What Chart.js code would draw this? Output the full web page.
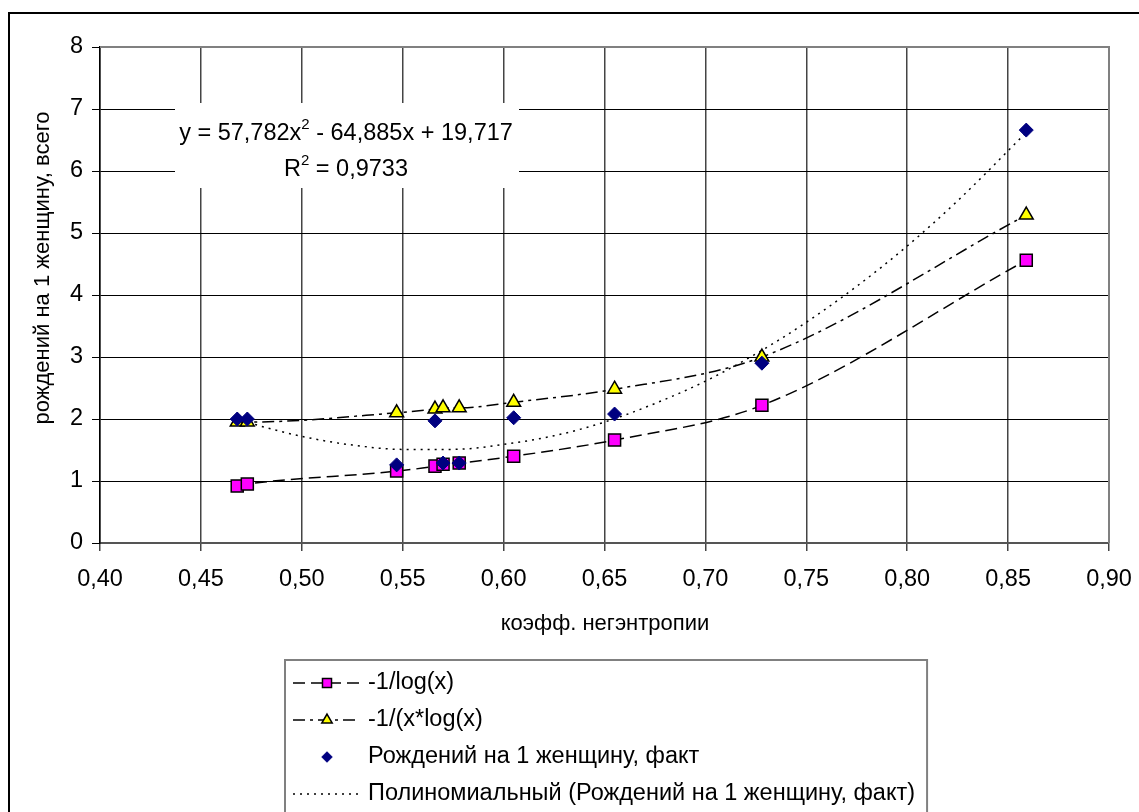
<!DOCTYPE html>
<html>
<head>
<meta charset="utf-8">
<script src="https://cdn.jsdelivr.net/npm/chart.js@4.4.1/dist/chart.umd.min.js"></script>
<style>
  html, body { margin: 0; padding: 0; background: #fff; }
  #wrap { width: 1139px; height: 812px; position: relative; }
</style>
</head>
<body>
<div id="wrap"><canvas id="chart"></canvas></div>
<script>
// values
const xValues = [0.468, 0.473, 0.547, 0.566, 0.570, 0.578, 0.605, 0.655, 0.728, 0.859]
const logValues = [0.92, 0.95, 1.16, 1.24, 1.27, 1.29, 1.40, 1.66, 2.22, 4.56]
const xLogValues = [1.95, 1.95, 2.10, 2.16, 2.18, 2.18, 2.27, 2.48, 3.00, 5.29]
const factValues = [2.00, 2.00, 1.26, 1.97, 1.29, 1.29, 2.02, 2.08, 2.90, 6.66]

const trendX = [0.467, 0.475, 0.50, 0.525, 0.55, 0.575, 0.60, 0.625, 0.65, 0.675, 0.70, 0.725, 0.75, 0.775, 0.80, 0.825, 0.859]
const trendY = [2.02, 1.93, 1.72, 1.58, 1.51, 1.51, 1.59, 1.73, 1.95, 2.25, 2.61, 3.05, 3.56, 4.14, 4.79, 5.52, 6.62]

const seriesNames = ['-1/log(x)', '-1/(x*log(x)', 'Рождений на 1 женщину, факт', 'Полиномиальный (Рождений на 1 женщину, факт)']
const xTitle = 'коэфф. негэнтропии'
const yTitle = 'рождений на 1 женщину, всего'
const eqLine1 = ['y = 57,782x', '2', ' - 64,885x + 19,717']
const eqLine2 = ['R', '2', ' = 0,9733']

const FONT = "'Liberation Sans', Arial, sans-serif"
const SIZE = 23.5

const pairs = (xs, ys) => xs.map((x, i) => ({ x: x, y: ys[i] }))

// frame, titles, equation label and legend
const extras = {
  id: 'extras',
  beforeDraw(chart) {
    const ctx = chart.ctx
    ctx.save()
    ctx.fillStyle = '#fff'
    ctx.fillRect(0, 0, chart.width, chart.height)
    ctx.strokeStyle = '#000'
    ctx.lineWidth = 2
    ctx.beginPath()
    ctx.moveTo(9, chart.height)
    ctx.lineTo(9, 13)
    ctx.lineTo(chart.width, 13)
    ctx.stroke()

    // axis titles
    ctx.fillStyle = '#000'
    ctx.font = '22px ' + FONT
    ctx.textAlign = 'center'
    ctx.textBaseline = 'middle'
    ctx.fillText(xTitle, 605, 624)
    ctx.translate(43, 268)
    ctx.rotate(-Math.PI / 2)
    ctx.fillText(yTitle, 0, 0)
    ctx.restore()
  },
  afterDatasetsDraw(chart) {
    const ctx = chart.ctx
    const a = chart.chartArea
    ctx.save()
    // plot area border (top / right)
    ctx.strokeStyle = '#808080'
    ctx.lineWidth = 2
    ctx.beginPath()
    ctx.moveTo(a.left, a.top)
    ctx.lineTo(a.right, a.top)
    ctx.lineTo(a.right, a.bottom)
    ctx.stroke()

    // regression equation
    ctx.fillStyle = '#fff'
    ctx.fillRect(175, 103, 344, 85)
    ctx.fillStyle = '#000'
    ctx.textBaseline = 'middle'
    ctx.textAlign = 'left'
    const drawSup = (parts, cx, cy) => {
      ctx.font = SIZE + 'px ' + FONT
      const w0 = ctx.measureText(parts[0]).width
      const w2 = ctx.measureText(parts[2]).width
      ctx.font = '15px ' + FONT
      const w1 = ctx.measureText(parts[1]).width
      const x = cx - (w0 + w1 + w2) / 2
      ctx.font = SIZE + 'px ' + FONT
      ctx.fillText(parts[0], x, cy)
      ctx.font = '15px ' + FONT
      ctx.fillText(parts[1], x + w0, cy - 9)
      ctx.font = SIZE + 'px ' + FONT
      ctx.fillText(parts[2], x + w0 + w1, cy)
    }
    drawSup(eqLine1, 346, 134)
    drawSup(eqLine2, 346, 170)
    ctx.restore()
  },
  afterDraw(chart) {
    const ctx = chart.ctx
    ctx.save()
    const byName = {}
    chart.data.datasets.forEach((ds) => { byName[ds.label] = ds })

    // legend box
    ctx.font = SIZE + 'px ' + FONT
    let maxW = 0
    seriesNames.forEach((n) => { maxW = Math.max(maxW, ctx.measureText(n).width) })
    const lx = 285, ly = 660, rx = 368 + maxW + 12
    ctx.strokeStyle = '#808080'
    ctx.lineWidth = 2
    ctx.beginPath()
    ctx.moveTo(lx, chart.height)
    ctx.lineTo(lx, ly)
    ctx.lineTo(rx, ly)
    ctx.lineTo(rx, chart.height)
    ctx.stroke()

    const rows = [683, 720, 757, 794]
    seriesNames.forEach((name, i) => {
      const ds = byName[name]
      const y = rows[i]
      if (ds.showLine !== false) {
        ctx.save()
        ctx.strokeStyle = ds.borderColor
        ctx.lineWidth = ds.borderWidth
        ctx.setLineDash(ds.borderDash || [])
        ctx.beginPath()
        ctx.moveTo(293, y)
        ctx.lineTo(360, y)
        ctx.stroke()
        ctx.restore()
      }
      if (ds.pointRadius > 0) {
        ctx.save()
        ctx.fillStyle = ds.pointBackgroundColor
        ctx.strokeStyle = ds.pointBorderColor
        ctx.lineWidth = ds.pointBorderWidth
        Chart.helpers.drawPoint(ctx, {
          pointStyle: ds.pointStyle,
          radius: ds.pointRadius * 0.75,
          borderWidth: ds.pointBorderWidth,
          rotation: 0
        }, 327, y)
        ctx.restore()
      }
      ctx.fillStyle = '#000'
      ctx.font = SIZE + 'px ' + FONT
      ctx.textAlign = 'left'
      ctx.textBaseline = 'middle'
      ctx.fillText(name, 368, y)
    })
    ctx.restore()
  }
}

const ctx = document.getElementById('chart').getContext('2d')
const chart = new Chart(ctx, {
  type: 'scatter',
  data: {
    datasets: [
      {
        label: seriesNames[2],
        data: pairs(xValues, factValues),
        showLine: false,
        pointStyle: 'rectRot',
        pointRadius: 7,
        pointBackgroundColor: '#000080',
        pointBorderColor: '#000080',
        pointBorderWidth: 1,
        order: 0,
      },
      {
        label: seriesNames[0],
        data: pairs(xValues, logValues),
        showLine: true,
        borderColor: '#000',
        borderWidth: 1.5,
        borderDash: [12, 6],
        cubicInterpolationMode: 'monotone',
        pointStyle: 'rect',
        pointRadius: 8.5,
        pointBackgroundColor: '#FF00FF',
        pointBorderColor: '#000',
        pointBorderWidth: 1.5,
        order: 1,
      },
      {
        label: seriesNames[1],
        data: pairs(xValues, xLogValues),
        showLine: true,
        borderColor: '#000',
        borderWidth: 1.5,
        borderDash: [12, 5, 3, 5],
        cubicInterpolationMode: 'monotone',
        pointStyle: 'triangle',
        pointRadius: 8,
        pointBackgroundColor: '#FFFF00',
        pointBorderColor: '#000',
        pointBorderWidth: 1.5,
        order: 2,
      },
      {
        label: seriesNames[3],
        data: pairs(trendX, trendY),
        showLine: true,
        borderColor: '#000',
        borderWidth: 1.5,
        borderDash: [2, 5],
        cubicInterpolationMode: 'monotone',
        pointRadius: 0,
        order: 3,
      },
    ],
  },
  options: {
    responsive: true,
    maintainAspectRatio: false,
    animation: false,
    layout: { padding: { top: 47, right: 30, bottom: 169, left: 0 } },
    plugins: {
      legend: { display: false },
      tooltip: { enabled: false },
    },
    scales: {
      x: {
        type: 'linear',
        min: 0.4,
        max: 0.9,
        afterFit: (s) => { s.height = 100; s.paddingLeft = 0; s.paddingRight = 0 },
        ticks: {
          stepSize: 0.05,
          padding: 14,
          color: '#000',
          font: { size: SIZE, family: FONT },
          callback: (v) => v.toFixed(2).replace('.', ','),
        },
        grid: { color: '#444', lineWidth: 1.5, tickLength: 8 },
        border: { color: '#555', width: 2 },
      },
      y: {
        min: 0,
        max: 8,
        afterFit: (s) => { s.width = 100; s.paddingTop = 0; s.paddingBottom = 0 },
        ticks: {
          stepSize: 1,
          padding: 9,
          color: '#000',
          font: { size: SIZE, family: FONT },
        },
        grid: { color: '#000', lineWidth: 1, tickLength: 8 },
        border: { color: '#000', width: 1.5 },
      },
    },
  },
  plugins: [extras],
})
</script>
</body>
</html>
